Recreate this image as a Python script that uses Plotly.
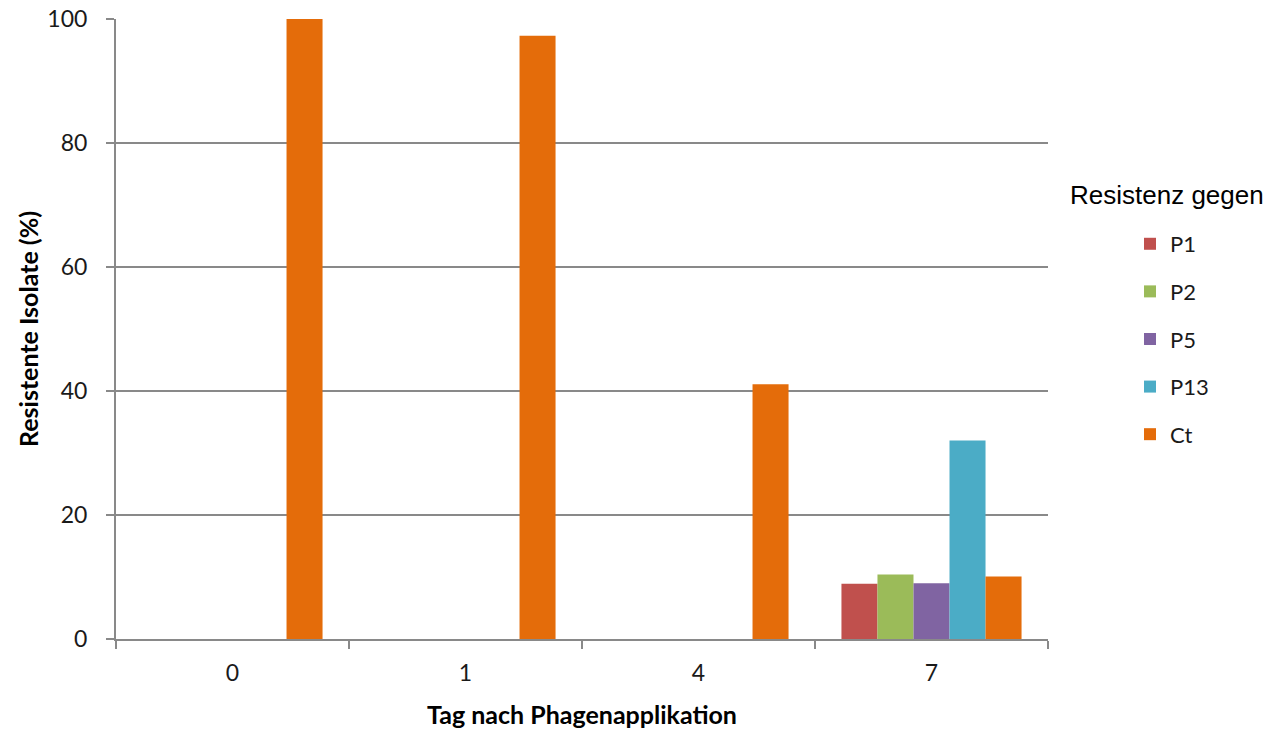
import plotly.graph_objects as go

# Days after phage application (categories)
days = ["0", "1", "4", "7"]

# Share of resistant isolates (%) per phage / control
p1 = [0, 0, 0, 8.9]
p2 = [0, 0, 0, 10.4]
p5 = [0, 0, 0, 9.0]
p13 = [0, 0, 0, 32.0]
ct = [100, 97.3, 41.1, 10.1]

series = [
    ("P1", p1, "#C0504D"),
    ("P2", p2, "#9BBB59"),
    ("P5", p5, "#8064A2"),
    ("P13", p13, "#4BACC6"),
    ("Ct", ct, "#E46C0A"),
]

fig = go.Figure()
for name, vals, color in series:
    fig.add_trace(go.Bar(
        x=days, y=vals, name=name, legendgroup=name,
        marker=dict(color=color, line=dict(width=0)),
    ))

axis_grey = "#898989"
label_font = dict(family="Lato, Carlito, sans-serif", size=23, color="#1a1a1a")

fig.update_layout(
    width=1268, height=729,
    margin=dict(l=116, r=220, t=19, b=90, autoexpand=False),
    paper_bgcolor="white", plot_bgcolor="white",
    barmode="group", bargap=0.227, bargroupgap=0,
    font=label_font,
    showlegend=True,
    legend=dict(
        x=1.088, xanchor="left", y=0.671, yanchor="top",
        font=dict(family="Lato, sans-serif", size=22, color="#1a1a1a"),
        traceorder="grouped", tracegroupgap=16,
        bgcolor="rgba(0,0,0,0)",
    ),
    xaxis=dict(
        type="category", showgrid=False, automargin=False,
        showline=True, linecolor=axis_grey, linewidth=2,
        ticks="outside", tickson="boundaries", ticklen=8, tickwidth=2, tickcolor=axis_grey,
        ticklabelstandoff=12,
        title=dict(text="<b>Tag nach Phagenapplikation</b>",
                   font=dict(family="Lato, sans-serif", size=25, color="#000"),
                   standoff=22),
    ),
    yaxis=dict(
        range=[0, 100], dtick=20, tick0=0, automargin=False,
        showgrid=True, gridcolor=axis_grey, gridwidth=2,
        showline=True, linecolor=axis_grey, linewidth=2,
        ticks="outside", ticklen=8, tickwidth=2, tickcolor=axis_grey,
        ticklabelstandoff=14, zeroline=False,
        title=dict(text="<b>Resistente Isolate (%)</b>",
                   font=dict(family="Lato, sans-serif", size=25, color="#000"),
                   standoff=2),
    ),
    annotations=[dict(
        text="Resistenz gegen", xref="paper", yref="paper",
        x=1.0215, y=(729 - 90 - 195) / 620, xanchor="left", yanchor="middle",
        showarrow=False,
        font=dict(family="Liberation Sans, Arial, sans-serif", size=26, color="#000"),
    )],
)

fig.write_html("out.html")
